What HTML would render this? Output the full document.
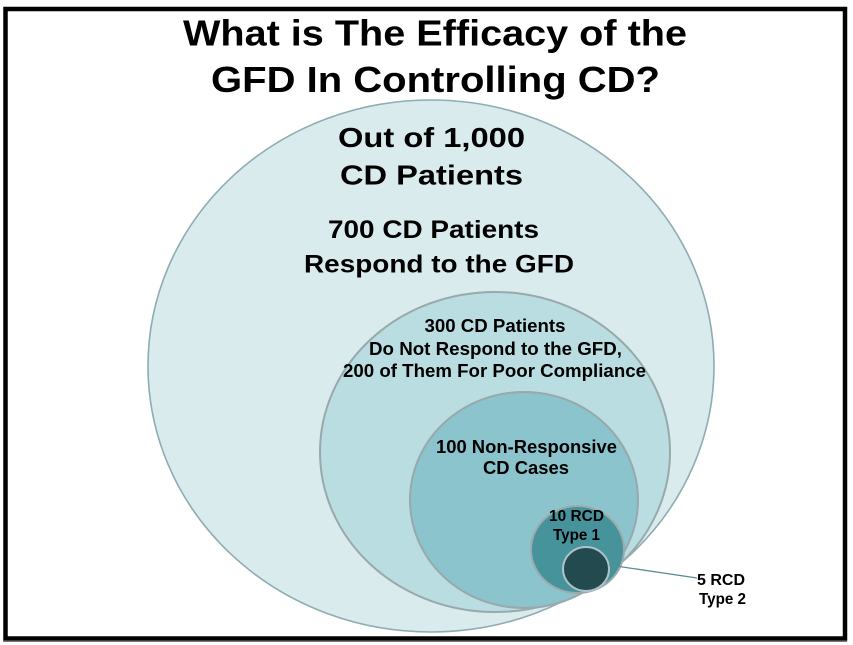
<!DOCTYPE html>
<html>
<head>
<meta charset="utf-8">
<style>
  html, body { margin:0; padding:0; background:#ffffff; }
  svg { display:block; }
  text { font-family: "Liberation Sans", Arial, sans-serif; font-weight: bold; fill:#000; }
</style>
</head>
<body>
<svg width="853" height="645" viewBox="0 0 853 645" xmlns="http://www.w3.org/2000/svg">
  <rect x="0" y="0" width="853" height="645" fill="#ffffff"/>

  <!-- circles -->
  <ellipse cx="431" cy="366" rx="283" ry="266" fill="#DAEBEE" stroke="#8EACB1" stroke-width="1.6"/>
  <ellipse cx="495" cy="452" rx="175" ry="160" fill="#BADDE2" stroke="#98A8AB" stroke-width="2"/>
  <ellipse cx="524" cy="500" rx="114" ry="108" fill="#8BC4CC" stroke="#98A8AB" stroke-width="2"/>
  <ellipse cx="577.5" cy="549.5" rx="46.5" ry="43.5" fill="#47939C" stroke="#9AABAE" stroke-width="2"/>
  <ellipse cx="586" cy="569" rx="23" ry="22" fill="#224A4F" stroke="#AEC3C6" stroke-width="2"/>

  <!-- connector line -->
  <line x1="609" y1="565" x2="697" y2="578" stroke="#5E8C91" stroke-width="1.3"/>

  <!-- title -->
  <text x="435" y="45.5" font-size="36" text-anchor="middle" textLength="504" lengthAdjust="spacingAndGlyphs">What is The Efficacy of the</text>
  <text x="435.5" y="92" font-size="36" text-anchor="middle" textLength="449" lengthAdjust="spacingAndGlyphs">GFD In Controlling CD?</text>

  <!-- labels -->
  <text x="431.5" y="147" font-size="28" text-anchor="middle" textLength="187" lengthAdjust="spacingAndGlyphs">Out of 1,000</text>
  <text x="431.5" y="184.5" font-size="28" text-anchor="middle" textLength="183" lengthAdjust="spacingAndGlyphs">CD Patients</text>

  <text x="433.5" y="238" font-size="25" text-anchor="middle" textLength="211" lengthAdjust="spacingAndGlyphs">700 CD Patients</text>
  <text x="439" y="272.5" font-size="25" text-anchor="middle" textLength="270" lengthAdjust="spacingAndGlyphs">Respond to the GFD</text>

  <text x="495" y="332" font-size="18.5" text-anchor="middle" textLength="141" lengthAdjust="spacingAndGlyphs">300 CD Patients</text>
  <text x="495.5" y="355" font-size="18.5" text-anchor="middle" textLength="253" lengthAdjust="spacingAndGlyphs">Do Not Respond to the GFD,</text>
  <text x="494.5" y="377" font-size="18.5" text-anchor="middle" textLength="303" lengthAdjust="spacingAndGlyphs">200 of Them For Poor Compliance</text>

  <text x="526.5" y="453" font-size="18" text-anchor="middle" textLength="181" lengthAdjust="spacingAndGlyphs">100 Non-Responsive</text>
  <text x="526" y="474" font-size="18" text-anchor="middle" textLength="86" lengthAdjust="spacingAndGlyphs">CD Cases</text>

  <text x="576.5" y="521" font-size="16" text-anchor="middle" textLength="55" lengthAdjust="spacingAndGlyphs">10 RCD</text>
  <text x="576.5" y="540" font-size="16" text-anchor="middle" textLength="47" lengthAdjust="spacingAndGlyphs">Type 1</text>

  <text x="721" y="585" font-size="16" text-anchor="middle" textLength="48" lengthAdjust="spacingAndGlyphs">5 RCD</text>
  <text x="722.5" y="604" font-size="16" text-anchor="middle" textLength="47" lengthAdjust="spacingAndGlyphs">Type 2</text>

  <!-- frame -->
  <rect x="5.5" y="9" width="839.5" height="629.5" fill="none" stroke="#000000" stroke-width="4.5"/>
  <line x1="3" y1="641.5" x2="847" y2="641.5" stroke="#777777" stroke-width="1"/>
</svg>
</body>
</html>
